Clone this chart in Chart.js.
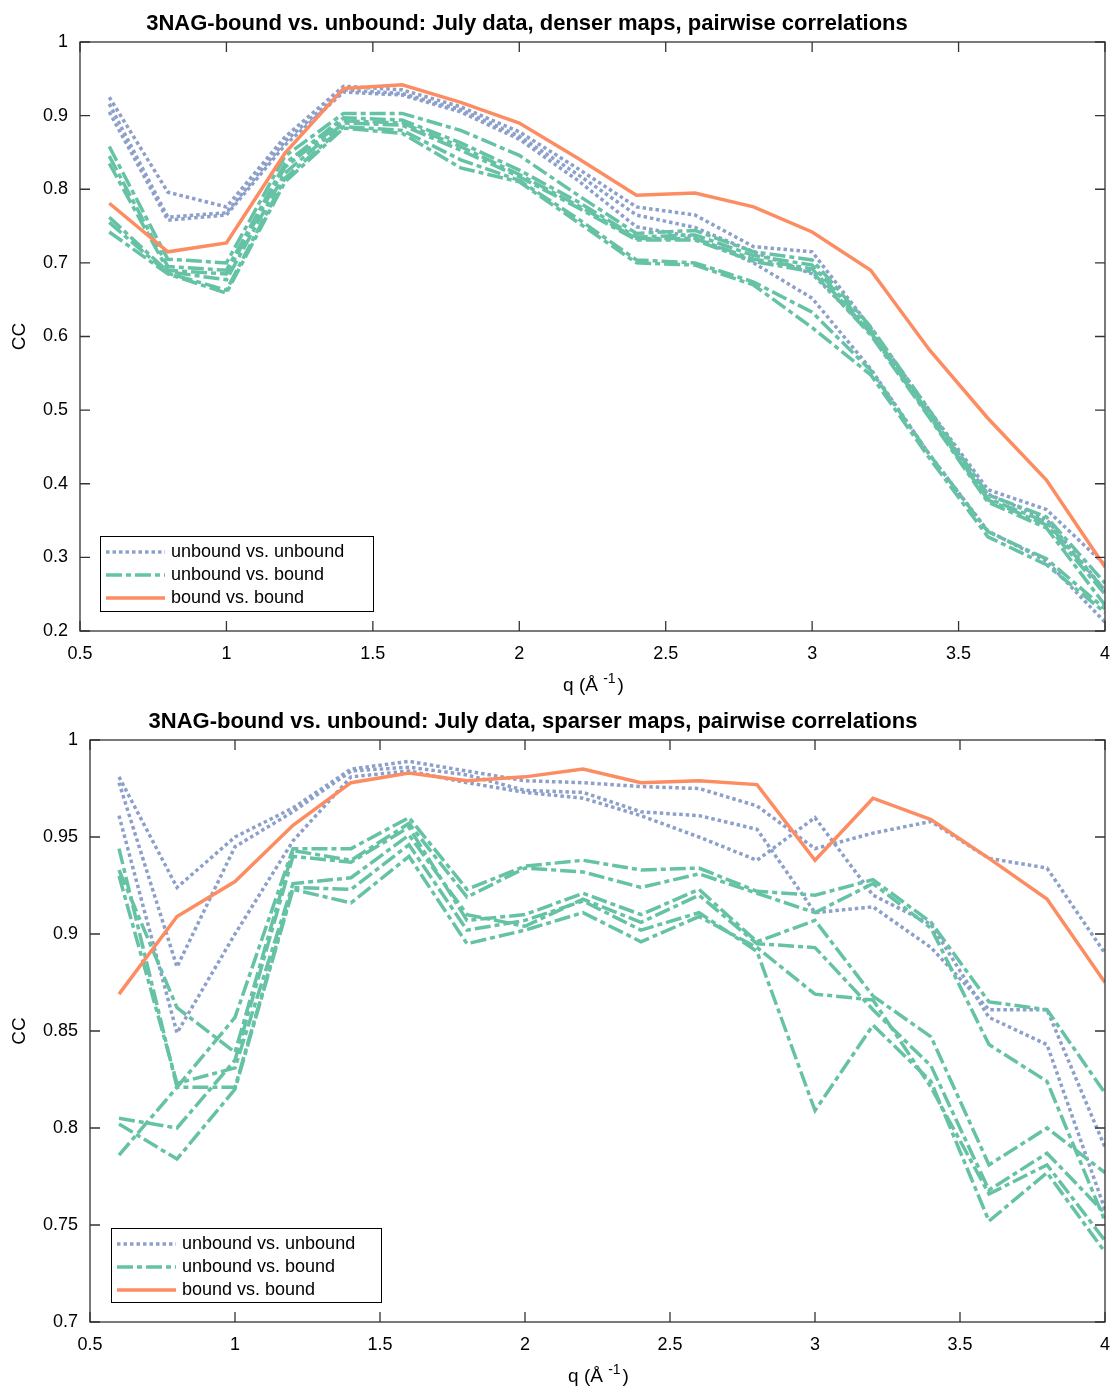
<!DOCTYPE html>
<html>
<head>
<meta charset="utf-8">
<script src="https://cdn.jsdelivr.net/npm/chart.js@4.4.0/dist/chart.umd.min.js"></script>
<style>
  body { margin: 0; background: #fff; }
  canvas { position: absolute; left: 0; }
  #dense { top: 0; }
  #sparse { top: 700px; }
</style>
</head>
<body>
<canvas id="dense" width="1114" height="700"></canvas>
<canvas id="sparse" width="1114" height="691"></canvas>
<script>
// q values (1/Angstrom) shared by every curve
var qValues = [0.6, 0.8, 1.0, 1.2, 1.4, 1.6, 1.8, 2.0, 2.2, 2.4, 2.6, 2.8, 3.0, 3.2, 3.4, 3.6, 3.8, 4.0];

var xTicks = [0.5, 1, 1.5, 2, 2.5, 3, 3.5, 4];
var yTicksDense = [0.2, 0.3, 0.4, 0.5, 0.6, 0.7, 0.8, 0.9, 1];
var yTicksSparse = [0.7, 0.75, 0.8, 0.85, 0.9, 0.95, 1];

var seriesNames = ['unbound vs. unbound', 'unbound vs. bound', 'bound vs. bound'];

// denser maps
var denseUU = [
  [0.925, 0.796, 0.776, 0.871, 0.940, 0.935, 0.912, 0.878, 0.828, 0.776, 0.765, 0.722, 0.715, 0.612, 0.500, 0.392, 0.365, 0.290],
  [0.916, 0.762, 0.768, 0.865, 0.935, 0.930, 0.908, 0.872, 0.820, 0.765, 0.748, 0.715, 0.685, 0.605, 0.495, 0.386, 0.352, 0.255],
  [0.905, 0.758, 0.765, 0.860, 0.932, 0.928, 0.905, 0.868, 0.812, 0.749, 0.735, 0.700, 0.652, 0.556, 0.440, 0.336, 0.295, 0.212]
];
var denseUB = [
  [0.858, 0.705, 0.700, 0.845, 0.903, 0.903, 0.880, 0.846, 0.792, 0.740, 0.744, 0.715, 0.704, 0.613, 0.500, 0.385, 0.355, 0.265],
  [0.845, 0.695, 0.690, 0.835, 0.897, 0.894, 0.863, 0.826, 0.783, 0.735, 0.738, 0.710, 0.697, 0.608, 0.495, 0.380, 0.348, 0.255],
  [0.835, 0.690, 0.685, 0.830, 0.893, 0.890, 0.858, 0.820, 0.778, 0.733, 0.733, 0.705, 0.692, 0.605, 0.492, 0.378, 0.344, 0.250],
  [0.762, 0.688, 0.677, 0.822, 0.890, 0.887, 0.853, 0.817, 0.775, 0.731, 0.731, 0.702, 0.688, 0.602, 0.490, 0.375, 0.340, 0.235],
  [0.755, 0.686, 0.663, 0.815, 0.885, 0.880, 0.840, 0.812, 0.760, 0.704, 0.700, 0.674, 0.633, 0.554, 0.440, 0.335, 0.298, 0.230],
  [0.742, 0.685, 0.659, 0.810, 0.883, 0.876, 0.829, 0.810, 0.755, 0.700, 0.697, 0.670, 0.612, 0.548, 0.435, 0.328, 0.290, 0.225]
];
var denseBB = [
  [0.781, 0.715, 0.727, 0.849, 0.937, 0.942, 0.918, 0.890, 0.842, 0.792, 0.795, 0.776, 0.742, 0.690, 0.582, 0.489, 0.405, 0.287]
];

// sparser maps
var sparseUU = [
  [0.981, 0.924, 0.950, 0.965, 0.985, 0.989, 0.984, 0.979, 0.978, 0.976, 0.975, 0.966, 0.944, 0.952, 0.958, 0.939, 0.934, 0.890],
  [0.978, 0.883, 0.945, 0.963, 0.984, 0.986, 0.982, 0.974, 0.973, 0.963, 0.961, 0.954, 0.911, 0.914, 0.893, 0.861, 0.861, 0.790],
  [0.961, 0.849, 0.900, 0.948, 0.981, 0.984, 0.978, 0.973, 0.970, 0.961, 0.950, 0.938, 0.960, 0.920, 0.905, 0.857, 0.843, 0.758]
];
var sparseUB = [
  [0.786, 0.821, 0.857, 0.944, 0.944, 0.960, 0.923, 0.935, 0.938, 0.933, 0.934, 0.922, 0.920, 0.928, 0.906, 0.865, 0.861, 0.818],
  [0.933, 0.862, 0.839, 0.943, 0.938, 0.957, 0.919, 0.934, 0.932, 0.924, 0.931, 0.921, 0.911, 0.926, 0.903, 0.843, 0.824, 0.752],
  [0.805, 0.800, 0.835, 0.940, 0.937, 0.955, 0.907, 0.910, 0.921, 0.910, 0.923, 0.896, 0.907, 0.868, 0.847, 0.781, 0.800, 0.777],
  [0.930, 0.823, 0.831, 0.926, 0.929, 0.951, 0.910, 0.904, 0.918, 0.906, 0.920, 0.895, 0.893, 0.861, 0.832, 0.768, 0.787, 0.756],
  [0.944, 0.821, 0.821, 0.924, 0.923, 0.946, 0.902, 0.907, 0.917, 0.902, 0.911, 0.891, 0.809, 0.853, 0.824, 0.752, 0.777, 0.736],
  [0.802, 0.784, 0.820, 0.923, 0.916, 0.940, 0.895, 0.902, 0.911, 0.896, 0.909, 0.893, 0.869, 0.866, 0.821, 0.766, 0.781, 0.742]
];
var sparseBB = [
  [0.869, 0.909, 0.927, 0.956, 0.978, 0.983, 0.979, 0.981, 0.985, 0.978, 0.979, 0.977, 0.938, 0.970, 0.959, 0.939, 0.918, 0.875]
];

var FONT = '"Liberation Sans", Arial, Helvetica, sans-serif';
var styles = [
  { color: '#8da0cb', dash: [3.5, 3], order: 3 },
  { color: '#66c2a5', dash: [16, 4, 5, 4], order: 2 },
  { color: '#fc8d62', dash: [], order: 1 }
];

function fmt(v) {
  return String(Math.round(v * 100) / 100);
}

function buildDatasets(groups) {
  var out = [];
  groups.forEach(function (lines, g) {
    lines.forEach(function (vals) {
      out.push({
        label: seriesNames[g],
        data: qValues.map(function (q, k) { return { x: q, y: vals[k] }; }),
        borderColor: styles[g].color,
        borderDash: styles[g].dash,
        borderWidth: 3.5,
        pointRadius: 0,
        tension: 0,
        fill: false,
        order: styles[g].order
      });
    });
  });
  return out;
}

// frame, inward ticks, title, axis titles and legend box
var decor = {
  id: 'decor',
  afterDraw: function (chart, args, o) {
    var ctx = chart.ctx;
    var a = chart.chartArea;
    var xs = chart.scales.x, ys = chart.scales.y;
    ctx.save();
    ctx.strokeStyle = '#333';
    ctx.lineWidth = 1.3;
    ctx.setLineDash([]);
    ctx.strokeRect(a.left, a.top, a.right - a.left, a.bottom - a.top);
    ctx.beginPath();
    xTicks.forEach(function (v) {
      var px = xs.getPixelForValue(v);
      ctx.moveTo(px, a.bottom); ctx.lineTo(px, a.bottom - 10);
      ctx.moveTo(px, a.top); ctx.lineTo(px, a.top + 10);
    });
    o.yTicks.forEach(function (v) {
      var py = ys.getPixelForValue(v);
      ctx.moveTo(a.left, py); ctx.lineTo(a.left + 10, py);
      ctx.moveTo(a.right, py); ctx.lineTo(a.right - 10, py);
    });
    ctx.stroke();

    ctx.fillStyle = '#000';
    ctx.textBaseline = 'middle';
    ctx.textAlign = 'center';
    ctx.font = 'bold 22px ' + FONT;
    ctx.fillText(o.title, o.titleX, o.titleY);

    // x axis title with superscript
    ctx.font = '19px ' + FONT;
    var p1 = 'q (\u00c5 ', p3 = ')';
    var w1 = ctx.measureText(p1).width, w3 = ctx.measureText(p3).width;
    ctx.font = '14px ' + FONT;
    var w2 = ctx.measureText('-1').width;
    var cx = (a.left + a.right) / 2;
    var sx = cx - (w1 + w2 + w3) / 2;
    ctx.textAlign = 'left';
    ctx.font = '19px ' + FONT;
    ctx.fillText(p1, sx, o.xTitleY);
    ctx.fillText(p3, sx + w1 + w2 + 2, o.xTitleY);
    ctx.font = '14px ' + FONT;
    ctx.fillText('-1', sx + w1, o.xTitleY - 7);

    // y axis title
    ctx.font = '19px ' + FONT;
    ctx.translate(20, (a.top + a.bottom) / 2);
    ctx.rotate(-Math.PI / 2);
    ctx.textAlign = 'center';
    ctx.fillText('CC', 0, 0);
    ctx.setTransform(1, 0, 0, 1, 0, 0);

    // legend
    var L = o.legend;
    ctx.strokeStyle = '#000';
    ctx.lineWidth = 1;
    ctx.strokeRect(L.x + 0.5, L.y + 0.5, L.w, L.h);
    ctx.textAlign = 'left';
    ctx.font = '18px ' + FONT;
    seriesNames.forEach(function (name, i) {
      var y = L.y + 16 + i * 23;
      ctx.beginPath();
      ctx.strokeStyle = styles[i].color;
      ctx.lineWidth = 3.5;
      ctx.setLineDash(styles[i].dash);
      ctx.moveTo(L.x + 6, y);
      ctx.lineTo(L.x + 65, y);
      ctx.stroke();
      ctx.fillStyle = '#000';
      ctx.fillText(name, L.x + 71, y);
    });
    ctx.restore();
  }
};

function makeChart(id, groups, yMin, yMax, yTicks, leftW, padTop, deco) {
  deco.yTicks = yTicks;
  return new Chart(document.getElementById(id).getContext('2d'), {
    type: 'line',
    data: { datasets: buildDatasets(groups) },
    plugins: [decor],
    options: {
      responsive: false,
      animation: false,
      layout: { padding: { top: padTop, right: 9, left: 0, bottom: 0 } },
      plugins: {
        legend: { display: false },
        tooltip: { enabled: false },
        decor: deco
      },
      scales: {
        x: {
          type: 'linear', min: 0.5, max: 4,
          afterBuildTicks: function (s) { s.ticks = xTicks.map(function (v) { return { value: v }; }); },
          afterFit: function (s) { s.height = 69; s.paddingLeft = 0; s.paddingRight = 0; },
          grid: { display: false, drawTicks: false },
          border: { display: false },
          ticks: { padding: 12, color: '#000', font: { family: FONT, size: 18 }, maxRotation: 0, autoSkip: false, callback: fmt }
        },
        y: {
          type: 'linear', min: yMin, max: yMax,
          afterBuildTicks: function (s) { s.ticks = yTicks.map(function (v) { return { value: v }; }); },
          afterFit: function (s) { s.width = leftW; s.paddingTop = 0; s.paddingBottom = 0; },
          grid: { display: false, drawTicks: false },
          border: { display: false },
          ticks: { padding: 12, color: '#000', font: { family: FONT, size: 18 }, autoSkip: false, callback: fmt }
        }
      }
    }
  });
}

makeChart('dense', [denseUU, denseUB, denseBB], 0.2, 1, yTicksDense, 80, 42, {
  title: '3NAG-bound vs. unbound: July data, denser maps, pairwise correlations',
  titleX: 527, titleY: 24, xTitleY: 686,
  legend: { x: 100, y: 536, w: 273, h: 75 }
});

makeChart('sparse', [sparseUU, sparseUB, sparseBB], 0.7, 1, yTicksSparse, 90, 40, {
  title: '3NAG-bound vs. unbound: July data, sparser maps, pairwise correlations',
  titleX: 533, titleY: 22, xTitleY: 677,
  legend: { x: 111, y: 528, w: 270, h: 74 }
});
</script>
</body>
</html>
